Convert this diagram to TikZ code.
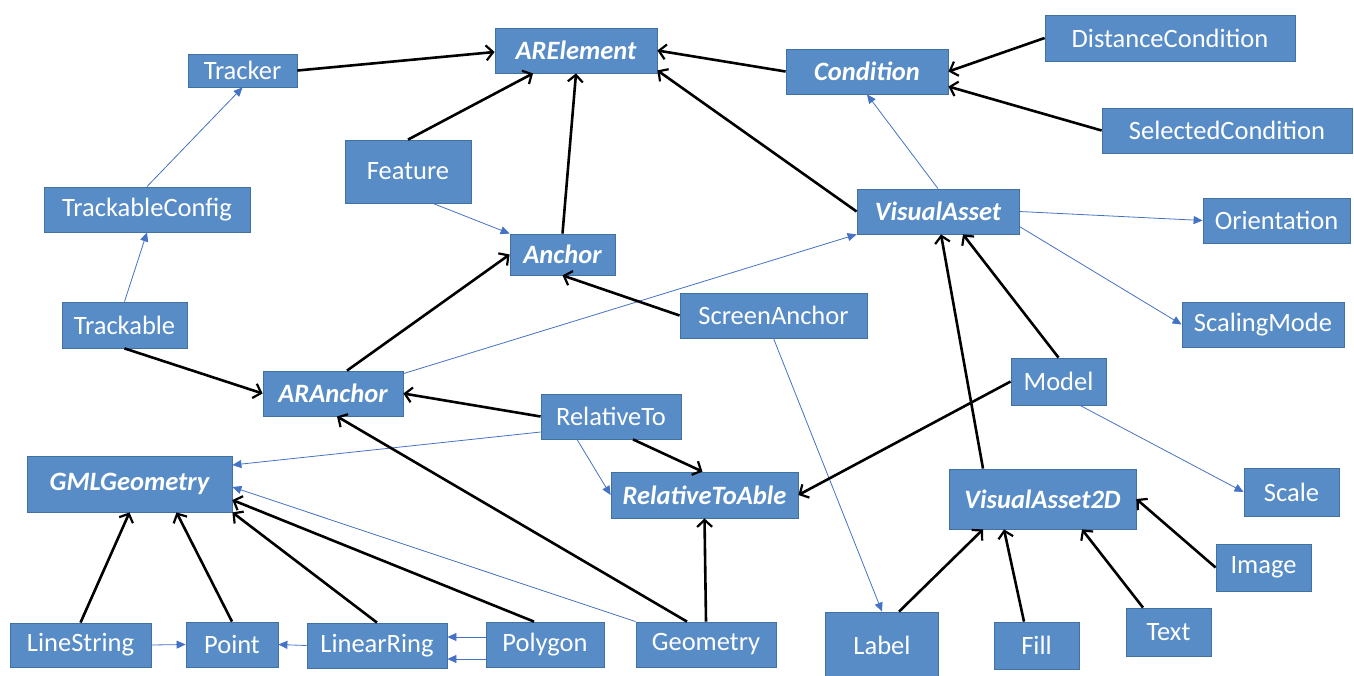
\documentclass[tikz,border=0pt]{standalone}
\usepackage{fontspec}
\setmainfont{Carlito}
\usetikzlibrary{arrows.meta}
\definecolor{boxfill}{RGB}{88,140,198}
\definecolor{boxline}{RGB}{65,113,160}
\definecolor{assoc}{RGB}{68,114,196}
\tikzset{
  box/.style={rectangle, fill=boxfill, draw=boxline, line width=0.8pt, text=white, inner sep=0pt, font=\fontsize{26.5}{30}\selectfont},
  abstr/.style={box, font=\fontsize{26.5}{30}\selectfont\bfseries\itshape},
  inh/.style={line width=2.6pt, black, -{Straight Barb[length=7pt,width=15pt,line width=2.2pt]}},
  asc/.style={line width=0.8pt, assoc, -{Triangle[length=9pt,width=8pt]}}
}
\begin{document}
\begin{tikzpicture}[x=1pt,y=-1pt]
\useasboundingbox (0,0) rectangle (1354,675);
% nodes
\node[box, minimum width=109pt, minimum height=33pt] (tracker) at (242.5,70.5) {Tracker};
\node[box, minimum width=206pt, minimum height=45pt] (tconf) at (147,209.5) {TrackableConfig};
\node[box, minimum width=126pt, minimum height=63pt] (feature) at (408,171.5) {Feature};
\node[abstr, minimum width=162pt, minimum height=45pt] (arel) at (576,50.5) {ARElement};
\node[abstr, minimum width=162pt, minimum height=45pt] (cond) at (867,71.5) {Condition};
\node[abstr, minimum width=105pt, minimum height=41pt] (anchor) at (562.5,254.5) {Anchor};
\node[abstr, minimum width=162pt, minimum height=45pt] (vasset) at (938,211.5) {VisualAsset};
\node[box, minimum width=250pt, minimum height=46pt] (dcond) at (1170,38) {DistanceCondition};
\node[box, minimum width=250pt, minimum height=45pt] (scond) at (1227,130.5) {SelectedCondition};
\node[box, minimum width=147pt, minimum height=45pt] (orient) at (1276.5,220.5) {Orientation};
\node[box, minimum width=125pt, minimum height=46pt] (trackable) at (124.5,325) {Trackable};
\node[abstr, minimum width=140pt, minimum height=45pt] (aranchor) at (333,393.5) {ARAnchor};
\node[abstr, minimum width=205pt, minimum height=56pt] (gml) at (129.5,484) {GMLGeometry};
\node[box, minimum width=141pt, minimum height=44pt] (linestr) at (80.5,645) {LineString};
\node[box, minimum width=92pt, minimum height=45pt] (point) at (232,644.5) {Point};
\node[box, minimum width=140pt, minimum height=45pt] (lring) at (377,645.5) {LinearRing};
\node[box, minimum width=118pt, minimum height=45pt] (polygon) at (545,644.5) {Polygon};
\node[box, minimum width=140pt, minimum height=45pt] (geometry) at (706,644.5) {Geometry};
\node[box, minimum width=187pt, minimum height=45pt] (sanchor) at (773.5,315.5) {ScreenAnchor};
\node[box, minimum width=140pt, minimum height=45pt] (relto) at (611,416.5) {RelativeTo};
\node[abstr, minimum width=187pt, minimum height=46pt] (reltoable) at (704.5,495) {RelativeToAble};
\node[box, minimum width=113pt, minimum height=66pt] (label) at (882,645) {Label};
\node[box, minimum width=162pt, minimum height=45pt] (smode) at (1263,324.5) {ScalingMode};
\node[box, minimum width=95pt, minimum height=47pt] (model) at (1058.5,381.5) {Model};
\node[box, minimum width=95pt, minimum height=48pt] (scale) at (1291.5,492) {Scale};
\node[abstr, minimum width=187pt, minimum height=60pt] (va2d) at (1042.5,499) {VisualAsset2D};
\node[box, minimum width=95pt, minimum height=47pt] (image) at (1263.5,567.5) {Image};
\node[box, minimum width=85pt, minimum height=47pt] (fill) at (1036.5,645.5) {Fill};
\node[box, minimum width=85pt, minimum height=48pt] (text) at (1168.5,632) {Text};
% association (blue) connectors
\draw[asc] (tconf.north) -- (tracker.south);
\draw[asc] (trackable.north) -- (tconf.south);
\draw[asc] ([xshift=25pt]feature.south) -- (anchor.north west);
\draw[asc] ([yshift=-3pt]aranchor.north east) -- (vasset.south west);
\draw[asc] (vasset.north) -- (cond.south);
\draw[asc] (vasset.east) -- (orient.west);
\draw[asc] ([yshift=-15pt]vasset.east) -- (smode.west);
\draw[asc] (sanchor.south) -- (label.north);
\draw[asc] ([yshift=-15.5pt]relto.west) -- ([yshift=19pt]gml.east);
\draw[asc] ([xshift=-34pt]relto.south) -- (reltoable.west);
\draw[asc] (geometry.north west) -- ([yshift=-3pt]gml.east);
\draw[asc] ([xshift=21.5pt]model.south) -- (scale.west);
\draw[asc] (linestr.east) -- (point.west);
\draw[asc] (lring.west) -- (point.east);
\draw[asc] ([yshift=7.5pt]polygon.west) -- ([yshift=8.5pt]lring.east);
\draw[asc] ([yshift=-14.5pt]polygon.west) -- ([yshift=-13.5pt]lring.east);
% inheritance (black) connectors
\draw[inh] (tracker.east) -- ([yshift=-1.5pt]arel.west);
\draw[inh] (feature.north) -- ([xshift=-43pt]arel.south);
\draw[inh] (anchor.north) -- (arel.south);
\draw[inh] (cond.west) -- (arel.east);
\draw[inh] (vasset.west) -- ([yshift=3pt]arel.south east);
\draw[inh] (dcond.west) -- (cond.east);
\draw[inh] (scond.west) -- ([yshift=-15pt]cond.east);
\draw[inh] ([xshift=14pt]aranchor.north) -- (anchor.west);
\draw[inh] (sanchor.west) -- (anchor.south);
\draw[inh] (trackable.south) -- (aranchor.west);
\draw[inh] (relto.west) -- (aranchor.east);
\draw[inh] ([xshift=-19pt]geometry.north) -- ([xshift=4pt]aranchor.south);
\draw[inh] ([xshift=22pt]relto.south) -- ([xshift=-2pt]reltoable.north);
\draw[inh] (model.west) -- (reltoable.east);
\draw[inh] (geometry.north) -- (reltoable.south);
\draw[inh] (model.north) -- ([xshift=25pt]vasset.south);
\draw[inh] ([xshift=-59.5pt]va2d.north) -- ([xshift=3pt]vasset.south);
\draw[inh] (linestr.north) -- (gml.south);
\draw[inh] (point.north) -- ([xshift=47pt]gml.south);
\draw[inh] (lring.north) -- (gml.south east);
\draw[inh] ([xshift=-11pt]polygon.north) -- ([yshift=-16pt]gml.east);
\draw[inh] ([xshift=17pt]label.north) -- ([xshift=-59.5pt]va2d.south);
\draw[inh] ([xshift=-12.5pt]fill.north) -- ([xshift=-38.5pt]va2d.south);
\draw[inh] ([xshift=-25.5pt]text.north) -- ([xshift=39.5pt]va2d.south);
\draw[inh] (image.west) -- (va2d.east);
\end{tikzpicture}
\end{document}
